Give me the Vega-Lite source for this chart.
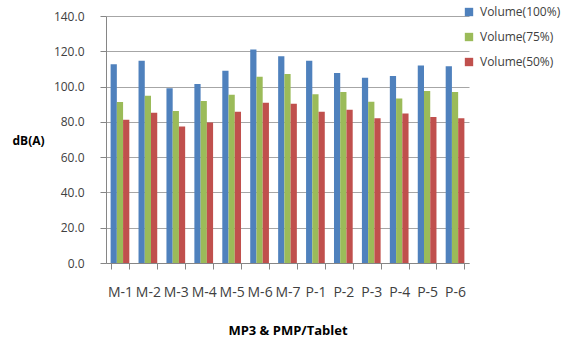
{
  "$schema": "https://vega.github.io/schema/vega-lite/v6.json",
  "autosize": {"type": "none"},
  "padding": {"left": 106, "top": 16, "right": 93, "bottom": 76},
  "width": 363,
  "height": 247,
  "background": "white",
  "config": {
    "view": {"stroke": null},
    "font": "Open Sans"
  },
  "data": {
    "values": [
      {"device": "M-1", "series": "Volume(100%)", "dB": 112.6},
      {"device": "M-1", "series": "Volume(75%)", "dB": 91.2},
      {"device": "M-1", "series": "Volume(50%)", "dB": 81.2},
      {"device": "M-2", "series": "Volume(100%)", "dB": 114.7},
      {"device": "M-2", "series": "Volume(75%)", "dB": 94.8},
      {"device": "M-2", "series": "Volume(50%)", "dB": 85.2},
      {"device": "M-3", "series": "Volume(100%)", "dB": 99.0},
      {"device": "M-3", "series": "Volume(75%)", "dB": 86.1},
      {"device": "M-3", "series": "Volume(50%)", "dB": 77.4},
      {"device": "M-4", "series": "Volume(100%)", "dB": 101.4},
      {"device": "M-4", "series": "Volume(75%)", "dB": 91.8},
      {"device": "M-4", "series": "Volume(50%)", "dB": 79.7},
      {"device": "M-5", "series": "Volume(100%)", "dB": 109.0},
      {"device": "M-5", "series": "Volume(75%)", "dB": 95.4},
      {"device": "M-5", "series": "Volume(50%)", "dB": 85.7},
      {"device": "M-6", "series": "Volume(100%)", "dB": 121.0},
      {"device": "M-6", "series": "Volume(75%)", "dB": 105.6},
      {"device": "M-6", "series": "Volume(50%)", "dB": 90.9},
      {"device": "M-7", "series": "Volume(100%)", "dB": 117.2},
      {"device": "M-7", "series": "Volume(75%)", "dB": 107.1},
      {"device": "M-7", "series": "Volume(50%)", "dB": 90.3},
      {"device": "P-1", "series": "Volume(100%)", "dB": 114.7},
      {"device": "P-1", "series": "Volume(75%)", "dB": 95.7},
      {"device": "P-1", "series": "Volume(50%)", "dB": 85.7},
      {"device": "P-2", "series": "Volume(100%)", "dB": 107.7},
      {"device": "P-2", "series": "Volume(75%)", "dB": 96.9},
      {"device": "P-2", "series": "Volume(50%)", "dB": 86.9},
      {"device": "P-3", "series": "Volume(100%)", "dB": 105.0},
      {"device": "P-3", "series": "Volume(75%)", "dB": 91.4},
      {"device": "P-3", "series": "Volume(50%)", "dB": 82.1},
      {"device": "P-4", "series": "Volume(100%)", "dB": 106.0},
      {"device": "P-4", "series": "Volume(75%)", "dB": 93.3},
      {"device": "P-4", "series": "Volume(50%)", "dB": 84.8},
      {"device": "P-5", "series": "Volume(100%)", "dB": 112.0},
      {"device": "P-5", "series": "Volume(75%)", "dB": 97.5},
      {"device": "P-5", "series": "Volume(50%)", "dB": 82.7},
      {"device": "P-6", "series": "Volume(100%)", "dB": 111.5},
      {"device": "P-6", "series": "Volume(75%)", "dB": 96.9},
      {"device": "P-6", "series": "Volume(50%)", "dB": 82.1}
    ]
  },
  "mark": {"type": "bar"},
  "encoding": {
    "x": {
      "field": "device",
      "type": "nominal",
      "sort": null,
      "scale": {"paddingInner": 0.33, "paddingOuter": 0.165},
      "axis": {
        "title": "MP3 & PMP/Tablet",
        "titleFont": "Open Sans",
        "titleFontSize": 13,
        "titleFontWeight": "bold",
        "titleColor": "#000000",
        "titleY": 67,
        "titleBaseline": "middle",
        "labelAngle": 0,
        "labelFontSize": 14,
        "labelColor": "#404040",
        "labelPadding": 16,
        "labelOverlap": false,
        "tickBand": "extent",
        "tickSize": 6,
        "tickColor": "#868686",
        "domainColor": "#868686",
        "grid": false
      }
    },
    "xOffset": {
      "field": "series",
      "type": "nominal",
      "sort": ["Volume(100%)", "Volume(75%)", "Volume(50%)"],
      "scale": {"paddingInner": 0, "paddingOuter": 0}
    },
    "y": {
      "field": "dB",
      "type": "quantitative",
      "scale": {"domain": [0, 140], "nice": false},
      "axis": {
        "title": "dB(A)",
        "titleAngle": 0,
        "titleAlign": "center",
        "titleBaseline": "middle",
        "titleX": -78,
        "titleY": 124,
        "titleFontSize": 12,
        "titleFontWeight": "bold",
        "titleColor": "#000000",
        "values": [0, 20, 40, 60, 80, 100, 120, 140],
        "format": ".1f",
        "labelFontSize": 12,
        "labelColor": "#404040",
        "labelPadding": 16,
        "tickSize": 6,
        "tickColor": "#868686",
        "domainColor": "#868686",
        "gridColor": "#A6A6A6",
        "gridWidth": 1
      }
    },
    "color": {
      "field": "series",
      "type": "nominal",
      "sort": ["Volume(100%)", "Volume(75%)", "Volume(50%)"],
      "scale": {
        "domain": ["Volume(100%)", "Volume(75%)", "Volume(50%)"],
        "range": ["#4F81BD", "#9BBB59", "#C0504D"]
      },
      "legend": {
        "title": null,
        "orient": "none",
        "legendX": 357,
        "legendY": -10,
        "symbolType": "square",
        "symbolSize": 70,
        "symbolStrokeWidth": 0,
        "labelFontSize": 12,
        "labelColor": "#404040",
        "labelOffset": 5,
        "labelLimit": 200,
        "rowPadding": 13
      }
    }
  }
}
